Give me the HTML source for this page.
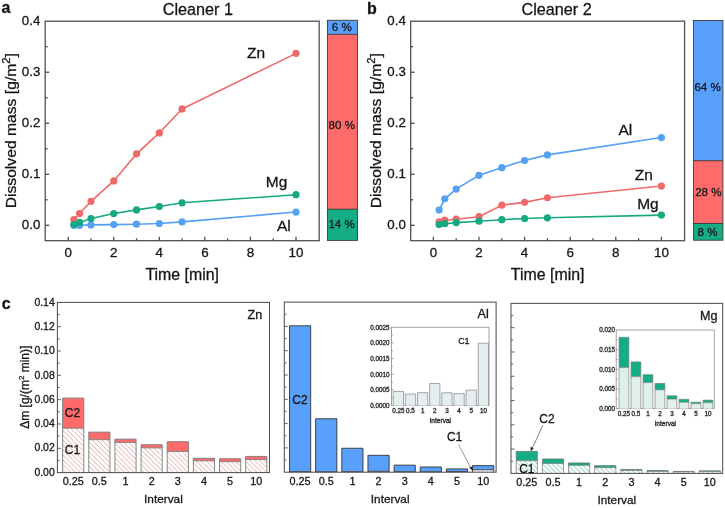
<!DOCTYPE html>
<html><head><meta charset="utf-8"><style>html,body{margin:0;padding:0;background:#fff;width:725px;height:508px;overflow:hidden}svg{display:block;will-change:transform}text{stroke:#222;stroke-width:0.3px}</style></head><body>
<svg width="725" height="508" viewBox="0 0 725 508" font-family='"Liberation Sans", sans-serif'>
<defs>
<pattern id="hr" patternUnits="userSpaceOnUse" width="4.9" height="4.9"><rect width="4.9" height="4.9" fill="#fff"/><path d="M-1,-1 L5.9,5.9 M-1,3.9 L1,5.9 M3.9,-1 L5.9,1" stroke="#e2a2a2" stroke-width="0.95"/></pattern>
<pattern id="hg" patternUnits="userSpaceOnUse" width="4.9" height="4.9"><rect width="4.9" height="4.9" fill="#fff"/><path d="M-1,-1 L5.9,5.9 M-1,3.9 L1,5.9 M3.9,-1 L5.9,1" stroke="#74c2ab" stroke-width="0.95"/></pattern>
<pattern id="hb" patternUnits="userSpaceOnUse" width="4" height="4"><rect width="4" height="4" fill="#fff"/><path d="M-1,-1 L5,5 M-1,3 L1,5 M3,-1 L5,1" stroke="#c6d2de" stroke-width="0.8"/></pattern>
</defs>
<rect width="725" height="508" fill="#fff"/>
<text x="1.50" y="13.20" font-size="16" text-anchor="start" font-weight="bold" fill="#111" >a</text>
<text x="367.00" y="14.00" font-size="16" text-anchor="start" font-weight="bold" fill="#111" >b</text>
<text x="1.80" y="308.80" font-size="16" text-anchor="start" font-weight="bold" fill="#111" >c</text>
<rect x="45.2" y="21.2" width="274.0" height="219.5" fill="none" stroke="#505050" stroke-width="1.3"/>
<line x1="45.20" y1="225.30" x2="49.20" y2="225.30" stroke="#505050" stroke-width="1.3"/>
<text x="40.30" y="229.20" font-size="13.3" text-anchor="end" font-weight="normal" fill="#111" >0.0</text>
<line x1="45.20" y1="199.79" x2="47.70" y2="199.79" stroke="#505050" stroke-width="1.3"/>
<line x1="45.20" y1="174.28" x2="49.20" y2="174.28" stroke="#505050" stroke-width="1.3"/>
<text x="40.30" y="178.18" font-size="13.3" text-anchor="end" font-weight="normal" fill="#111" >0.1</text>
<line x1="45.20" y1="148.76" x2="47.70" y2="148.76" stroke="#505050" stroke-width="1.3"/>
<line x1="45.20" y1="123.25" x2="49.20" y2="123.25" stroke="#505050" stroke-width="1.3"/>
<text x="40.30" y="127.15" font-size="13.3" text-anchor="end" font-weight="normal" fill="#111" >0.2</text>
<line x1="45.20" y1="97.74" x2="47.70" y2="97.74" stroke="#505050" stroke-width="1.3"/>
<line x1="45.20" y1="72.22" x2="49.20" y2="72.22" stroke="#505050" stroke-width="1.3"/>
<text x="40.30" y="76.12" font-size="13.3" text-anchor="end" font-weight="normal" fill="#111" >0.3</text>
<line x1="45.20" y1="46.71" x2="47.70" y2="46.71" stroke="#505050" stroke-width="1.3"/>
<text x="40.30" y="25.10" font-size="13.3" text-anchor="end" font-weight="normal" fill="#111" >0.4</text>
<line x1="68.20" y1="240.70" x2="68.20" y2="236.70" stroke="#505050" stroke-width="1.3"/>
<text x="68.20" y="256.50" font-size="13.4" text-anchor="middle" font-weight="normal" fill="#111" >0</text>
<line x1="90.98" y1="240.70" x2="90.98" y2="238.20" stroke="#505050" stroke-width="1.3"/>
<line x1="113.76" y1="240.70" x2="113.76" y2="236.70" stroke="#505050" stroke-width="1.3"/>
<text x="113.76" y="256.50" font-size="13.4" text-anchor="middle" font-weight="normal" fill="#111" >2</text>
<line x1="136.54" y1="240.70" x2="136.54" y2="238.20" stroke="#505050" stroke-width="1.3"/>
<line x1="159.32" y1="240.70" x2="159.32" y2="236.70" stroke="#505050" stroke-width="1.3"/>
<text x="159.32" y="256.50" font-size="13.4" text-anchor="middle" font-weight="normal" fill="#111" >4</text>
<line x1="182.10" y1="240.70" x2="182.10" y2="238.20" stroke="#505050" stroke-width="1.3"/>
<line x1="204.88" y1="240.70" x2="204.88" y2="236.70" stroke="#505050" stroke-width="1.3"/>
<text x="204.88" y="256.50" font-size="13.4" text-anchor="middle" font-weight="normal" fill="#111" >6</text>
<line x1="227.66" y1="240.70" x2="227.66" y2="238.20" stroke="#505050" stroke-width="1.3"/>
<line x1="250.44" y1="240.70" x2="250.44" y2="236.70" stroke="#505050" stroke-width="1.3"/>
<text x="250.44" y="256.50" font-size="13.4" text-anchor="middle" font-weight="normal" fill="#111" >8</text>
<line x1="273.22" y1="240.70" x2="273.22" y2="238.20" stroke="#505050" stroke-width="1.3"/>
<line x1="296.00" y1="240.70" x2="296.00" y2="236.70" stroke="#505050" stroke-width="1.3"/>
<text x="296.00" y="256.50" font-size="13.4" text-anchor="middle" font-weight="normal" fill="#111" >10</text>
<text x="162.80" y="14.90" font-size="16.2" text-anchor="start" font-weight="normal" fill="#111" >Cleaner 1</text>
<text x="182.20" y="279.80" font-size="15.9" text-anchor="middle" font-weight="normal" fill="#111" >Time [min]</text>
<text transform="translate(15.9,130.7) rotate(-90) scale(1.075,1)" font-size="14.6" text-anchor="middle" fill="#111">Dissolved mass [g/m<tspan dy="-6.2" font-size="10.5">2</tspan><tspan dy="6.2">]</tspan></text>
<polyline points="73.90,225.30 79.59,225.30 90.98,224.89 113.76,224.59 136.54,224.18 159.32,223.51 182.10,221.88 296.00,212.03" fill="none" stroke="#55a0f2" stroke-width="1.6"/>
<circle cx="73.90" cy="225.30" r="3.6" fill="#55a0f2"/>
<circle cx="79.59" cy="225.30" r="3.6" fill="#55a0f2"/>
<circle cx="90.98" cy="224.89" r="3.6" fill="#55a0f2"/>
<circle cx="113.76" cy="224.59" r="3.6" fill="#55a0f2"/>
<circle cx="136.54" cy="224.18" r="3.6" fill="#55a0f2"/>
<circle cx="159.32" cy="223.51" r="3.6" fill="#55a0f2"/>
<circle cx="182.10" cy="221.88" r="3.6" fill="#55a0f2"/>
<circle cx="296.00" cy="212.03" r="3.6" fill="#55a0f2"/>
<polyline points="73.90,219.69 79.59,213.56 90.98,201.32 113.76,180.91 136.54,153.87 159.32,132.94 182.10,108.96 296.00,53.35" fill="none" stroke="#ee6a6a" stroke-width="1.6"/>
<circle cx="73.90" cy="219.69" r="3.6" fill="#ee6a6a"/>
<circle cx="79.59" cy="213.56" r="3.6" fill="#ee6a6a"/>
<circle cx="90.98" cy="201.32" r="3.6" fill="#ee6a6a"/>
<circle cx="113.76" cy="180.91" r="3.6" fill="#ee6a6a"/>
<circle cx="136.54" cy="153.87" r="3.6" fill="#ee6a6a"/>
<circle cx="159.32" cy="132.94" r="3.6" fill="#ee6a6a"/>
<circle cx="182.10" cy="108.96" r="3.6" fill="#ee6a6a"/>
<circle cx="296.00" cy="53.35" r="3.6" fill="#ee6a6a"/>
<polyline points="73.90,224.59 79.59,222.39 90.98,218.51 113.76,213.51 136.54,209.89 159.32,206.52 182.10,202.80 296.00,194.69" fill="none" stroke="#16a880" stroke-width="1.6"/>
<circle cx="73.90" cy="224.59" r="3.6" fill="#16a880"/>
<circle cx="79.59" cy="222.39" r="3.6" fill="#16a880"/>
<circle cx="90.98" cy="218.51" r="3.6" fill="#16a880"/>
<circle cx="113.76" cy="213.51" r="3.6" fill="#16a880"/>
<circle cx="136.54" cy="209.89" r="3.6" fill="#16a880"/>
<circle cx="159.32" cy="206.52" r="3.6" fill="#16a880"/>
<circle cx="182.10" cy="202.80" r="3.6" fill="#16a880"/>
<circle cx="296.00" cy="194.69" r="3.6" fill="#16a880"/>
<text x="247.00" y="58.10" font-size="15.5" text-anchor="start" font-weight="normal" fill="#111" >Zn</text>
<text x="265.80" y="187.30" font-size="15.5" text-anchor="start" font-weight="normal" fill="#111" >Mg</text>
<text x="277.00" y="230.80" font-size="15.5" text-anchor="start" font-weight="normal" fill="#111" >Al</text>
<rect x="410.7" y="21.2" width="273.90000000000003" height="219.5" fill="none" stroke="#505050" stroke-width="1.3"/>
<line x1="410.70" y1="225.30" x2="414.70" y2="225.30" stroke="#505050" stroke-width="1.3"/>
<text x="405.80" y="229.20" font-size="13.3" text-anchor="end" font-weight="normal" fill="#111" >0.0</text>
<line x1="410.70" y1="199.79" x2="413.20" y2="199.79" stroke="#505050" stroke-width="1.3"/>
<line x1="410.70" y1="174.28" x2="414.70" y2="174.28" stroke="#505050" stroke-width="1.3"/>
<text x="405.80" y="178.18" font-size="13.3" text-anchor="end" font-weight="normal" fill="#111" >0.1</text>
<line x1="410.70" y1="148.76" x2="413.20" y2="148.76" stroke="#505050" stroke-width="1.3"/>
<line x1="410.70" y1="123.25" x2="414.70" y2="123.25" stroke="#505050" stroke-width="1.3"/>
<text x="405.80" y="127.15" font-size="13.3" text-anchor="end" font-weight="normal" fill="#111" >0.2</text>
<line x1="410.70" y1="97.74" x2="413.20" y2="97.74" stroke="#505050" stroke-width="1.3"/>
<line x1="410.70" y1="72.22" x2="414.70" y2="72.22" stroke="#505050" stroke-width="1.3"/>
<text x="405.80" y="76.12" font-size="13.3" text-anchor="end" font-weight="normal" fill="#111" >0.3</text>
<line x1="410.70" y1="46.71" x2="413.20" y2="46.71" stroke="#505050" stroke-width="1.3"/>
<text x="405.80" y="25.10" font-size="13.3" text-anchor="end" font-weight="normal" fill="#111" >0.4</text>
<line x1="433.40" y1="240.70" x2="433.40" y2="236.70" stroke="#505050" stroke-width="1.3"/>
<text x="433.40" y="256.50" font-size="13.4" text-anchor="middle" font-weight="normal" fill="#111" >0</text>
<line x1="456.20" y1="240.70" x2="456.20" y2="238.20" stroke="#505050" stroke-width="1.3"/>
<line x1="479.00" y1="240.70" x2="479.00" y2="236.70" stroke="#505050" stroke-width="1.3"/>
<text x="479.00" y="256.50" font-size="13.4" text-anchor="middle" font-weight="normal" fill="#111" >2</text>
<line x1="501.80" y1="240.70" x2="501.80" y2="238.20" stroke="#505050" stroke-width="1.3"/>
<line x1="524.60" y1="240.70" x2="524.60" y2="236.70" stroke="#505050" stroke-width="1.3"/>
<text x="524.60" y="256.50" font-size="13.4" text-anchor="middle" font-weight="normal" fill="#111" >4</text>
<line x1="547.40" y1="240.70" x2="547.40" y2="238.20" stroke="#505050" stroke-width="1.3"/>
<line x1="570.20" y1="240.70" x2="570.20" y2="236.70" stroke="#505050" stroke-width="1.3"/>
<text x="570.20" y="256.50" font-size="13.4" text-anchor="middle" font-weight="normal" fill="#111" >6</text>
<line x1="593.00" y1="240.70" x2="593.00" y2="238.20" stroke="#505050" stroke-width="1.3"/>
<line x1="615.80" y1="240.70" x2="615.80" y2="236.70" stroke="#505050" stroke-width="1.3"/>
<text x="615.80" y="256.50" font-size="13.4" text-anchor="middle" font-weight="normal" fill="#111" >8</text>
<line x1="638.60" y1="240.70" x2="638.60" y2="238.20" stroke="#505050" stroke-width="1.3"/>
<line x1="661.40" y1="240.70" x2="661.40" y2="236.70" stroke="#505050" stroke-width="1.3"/>
<text x="661.40" y="256.50" font-size="13.4" text-anchor="middle" font-weight="normal" fill="#111" >10</text>
<text x="521.50" y="14.90" font-size="16.2" text-anchor="start" font-weight="normal" fill="#111" >Cleaner 2</text>
<text x="547.65" y="279.80" font-size="15.9" text-anchor="middle" font-weight="normal" fill="#111" >Time [min]</text>
<text transform="translate(381.3,130.7) rotate(-90) scale(1.075,1)" font-size="14.6" text-anchor="middle" fill="#111">Dissolved mass [g/m<tspan dy="-6.2" font-size="10.5">2</tspan><tspan dy="6.2">]</tspan></text>
<polyline points="439.10,210.09 444.80,198.77 456.20,189.07 479.00,175.30 501.80,167.64 524.60,160.50 547.40,154.89 661.40,137.54" fill="none" stroke="#55a0f2" stroke-width="1.6"/>
<circle cx="439.10" cy="210.09" r="3.6" fill="#55a0f2"/>
<circle cx="444.80" cy="198.77" r="3.6" fill="#55a0f2"/>
<circle cx="456.20" cy="189.07" r="3.6" fill="#55a0f2"/>
<circle cx="479.00" cy="175.30" r="3.6" fill="#55a0f2"/>
<circle cx="501.80" cy="167.64" r="3.6" fill="#55a0f2"/>
<circle cx="524.60" cy="160.50" r="3.6" fill="#55a0f2"/>
<circle cx="547.40" cy="154.89" r="3.6" fill="#55a0f2"/>
<circle cx="661.40" cy="137.54" r="3.6" fill="#55a0f2"/>
<polyline points="439.10,221.88 444.80,220.20 456.20,219.18 479.00,216.68 501.80,205.20 524.60,202.34 547.40,197.75 661.40,186.01" fill="none" stroke="#ee6a6a" stroke-width="1.6"/>
<circle cx="439.10" cy="221.88" r="3.6" fill="#ee6a6a"/>
<circle cx="444.80" cy="220.20" r="3.6" fill="#ee6a6a"/>
<circle cx="456.20" cy="219.18" r="3.6" fill="#ee6a6a"/>
<circle cx="479.00" cy="216.68" r="3.6" fill="#ee6a6a"/>
<circle cx="501.80" cy="205.20" r="3.6" fill="#ee6a6a"/>
<circle cx="524.60" cy="202.34" r="3.6" fill="#ee6a6a"/>
<circle cx="547.40" cy="197.75" r="3.6" fill="#ee6a6a"/>
<circle cx="661.40" cy="186.01" r="3.6" fill="#ee6a6a"/>
<polyline points="439.10,224.59 444.80,223.72 456.20,222.60 479.00,221.22 501.80,219.69 524.60,218.51 547.40,217.80 661.40,215.09" fill="none" stroke="#16a880" stroke-width="1.6"/>
<circle cx="439.10" cy="224.59" r="3.6" fill="#16a880"/>
<circle cx="444.80" cy="223.72" r="3.6" fill="#16a880"/>
<circle cx="456.20" cy="222.60" r="3.6" fill="#16a880"/>
<circle cx="479.00" cy="221.22" r="3.6" fill="#16a880"/>
<circle cx="501.80" cy="219.69" r="3.6" fill="#16a880"/>
<circle cx="524.60" cy="218.51" r="3.6" fill="#16a880"/>
<circle cx="547.40" cy="217.80" r="3.6" fill="#16a880"/>
<circle cx="661.40" cy="215.09" r="3.6" fill="#16a880"/>
<text x="618.40" y="134.80" font-size="15.5" text-anchor="start" font-weight="normal" fill="#111" >Al</text>
<text x="634.80" y="179.70" font-size="15.5" text-anchor="start" font-weight="normal" fill="#111" >Zn</text>
<text x="637.20" y="208.80" font-size="15.5" text-anchor="start" font-weight="normal" fill="#111" >Mg</text>
<rect x="327.40" y="20.30" width="30.00" height="14.00" fill="#58a0fc" stroke="none" stroke-width="1"/>
<rect x="327.40" y="34.30" width="30.00" height="174.90" fill="#ff6a6a" stroke="none" stroke-width="1"/>
<rect x="327.40" y="209.20" width="30.00" height="31.20" fill="#14ad86" stroke="none" stroke-width="1"/>
<line x1="327.40" y1="34.30" x2="357.40" y2="34.30" stroke="#333" stroke-width="0.9"/>
<line x1="327.40" y1="209.20" x2="357.40" y2="209.20" stroke="#333" stroke-width="0.9"/>
<rect x="327.4" y="20.3" width="30.0" height="220.1" fill="none" stroke="#3a3a3a" stroke-width="0.9"/>
<text x="341.80" y="31.40" font-size="11.6" text-anchor="middle" font-weight="normal" fill="#111" >6 %</text>
<text x="341.80" y="129.00" font-size="11.6" text-anchor="middle" font-weight="normal" fill="#111" >80 %</text>
<text x="341.60" y="228.30" font-size="11.6" text-anchor="middle" font-weight="normal" fill="#111" >14 %</text>
<rect x="693.50" y="20.50" width="29.40" height="140.20" fill="#58a0fc" stroke="none" stroke-width="1"/>
<rect x="693.50" y="160.70" width="29.40" height="62.80" fill="#ff6a6a" stroke="none" stroke-width="1"/>
<rect x="693.50" y="223.50" width="29.40" height="16.70" fill="#14ad86" stroke="none" stroke-width="1"/>
<line x1="693.50" y1="160.70" x2="722.90" y2="160.70" stroke="#333" stroke-width="0.9"/>
<line x1="693.50" y1="223.50" x2="722.90" y2="223.50" stroke="#333" stroke-width="0.9"/>
<rect x="693.5" y="20.5" width="29.4" height="219.7" fill="none" stroke="#3a3a3a" stroke-width="0.9"/>
<text x="707.60" y="91.10" font-size="11.6" text-anchor="middle" font-weight="normal" fill="#111" >64 %</text>
<text x="708.40" y="195.50" font-size="11.6" text-anchor="middle" font-weight="normal" fill="#111" >28 %</text>
<text x="707.60" y="235.80" font-size="11.6" text-anchor="middle" font-weight="normal" fill="#111" >8 %</text>
<text x="54.70" y="475.80" font-size="10.4" text-anchor="end" font-weight="normal" fill="#111" >0.00</text>
<text x="54.70" y="451.49" font-size="10.4" text-anchor="end" font-weight="normal" fill="#111" >0.02</text>
<text x="54.70" y="427.17" font-size="10.4" text-anchor="end" font-weight="normal" fill="#111" >0.04</text>
<text x="54.70" y="402.86" font-size="10.4" text-anchor="end" font-weight="normal" fill="#111" >0.06</text>
<text x="54.70" y="378.54" font-size="10.4" text-anchor="end" font-weight="normal" fill="#111" >0.08</text>
<text x="54.70" y="354.23" font-size="10.4" text-anchor="end" font-weight="normal" fill="#111" >0.10</text>
<text x="54.70" y="329.91" font-size="10.4" text-anchor="end" font-weight="normal" fill="#111" >0.12</text>
<text x="54.70" y="305.60" font-size="10.4" text-anchor="end" font-weight="normal" fill="#111" >0.14</text>
<text x="73.20" y="485.10" font-size="10.8" text-anchor="middle" font-weight="normal" fill="#111" >0.25</text>
<text x="99.35" y="485.10" font-size="10.8" text-anchor="middle" font-weight="normal" fill="#111" >0.5</text>
<text x="125.50" y="485.10" font-size="10.8" text-anchor="middle" font-weight="normal" fill="#111" >1</text>
<text x="151.65" y="485.10" font-size="10.8" text-anchor="middle" font-weight="normal" fill="#111" >2</text>
<text x="177.80" y="485.10" font-size="10.8" text-anchor="middle" font-weight="normal" fill="#111" >3</text>
<text x="203.95" y="485.10" font-size="10.8" text-anchor="middle" font-weight="normal" fill="#111" >4</text>
<text x="230.10" y="485.10" font-size="10.8" text-anchor="middle" font-weight="normal" fill="#111" >5</text>
<text x="256.25" y="485.10" font-size="10.8" text-anchor="middle" font-weight="normal" fill="#111" >10</text>
<text x="163.45" y="502.90" font-size="11.8" text-anchor="middle" font-weight="normal" fill="#111" >Interval</text>
<text x="247.60" y="319.00" font-size="12.6" text-anchor="start" font-weight="normal" fill="#111" >Zn</text>
<rect x="62.60" y="398.08" width="21.20" height="30.15" fill="#ff6a6a" stroke="none" stroke-width="1"/>
<rect x="62.60" y="428.23" width="21.20" height="44.37" fill="url(#hr)" stroke="none" stroke-width="1"/>
<path d="M62.60,472.60 V398.08 H83.80 V472.60" fill="none" stroke="#7a7a7a" stroke-width="0.9"/>
<line x1="62.60" y1="428.23" x2="83.80" y2="428.23" stroke="#7a7a7a" stroke-width="0.9"/>
<rect x="88.75" y="432.12" width="21.20" height="7.54" fill="#ff6a6a" stroke="none" stroke-width="1"/>
<rect x="88.75" y="439.65" width="21.20" height="32.95" fill="url(#hr)" stroke="none" stroke-width="1"/>
<path d="M88.75,472.60 V432.12 H109.95 V472.60" fill="none" stroke="#7a7a7a" stroke-width="0.9"/>
<line x1="88.75" y1="439.65" x2="109.95" y2="439.65" stroke="#7a7a7a" stroke-width="0.9"/>
<rect x="114.90" y="439.17" width="21.20" height="3.28" fill="#ff6a6a" stroke="none" stroke-width="1"/>
<rect x="114.90" y="442.45" width="21.20" height="30.15" fill="url(#hr)" stroke="none" stroke-width="1"/>
<path d="M114.90,472.60 V439.17 H136.10 V472.60" fill="none" stroke="#7a7a7a" stroke-width="0.9"/>
<line x1="114.90" y1="442.45" x2="136.10" y2="442.45" stroke="#7a7a7a" stroke-width="0.9"/>
<rect x="141.05" y="444.76" width="21.20" height="3.16" fill="#ff6a6a" stroke="none" stroke-width="1"/>
<rect x="141.05" y="447.92" width="21.20" height="24.68" fill="url(#hr)" stroke="none" stroke-width="1"/>
<path d="M141.05,472.60 V444.76 H162.25 V472.60" fill="none" stroke="#7a7a7a" stroke-width="0.9"/>
<line x1="141.05" y1="447.92" x2="162.25" y2="447.92" stroke="#7a7a7a" stroke-width="0.9"/>
<rect x="167.20" y="441.72" width="21.20" height="9.73" fill="#ff6a6a" stroke="none" stroke-width="1"/>
<rect x="167.20" y="451.45" width="21.20" height="21.15" fill="url(#hr)" stroke="none" stroke-width="1"/>
<path d="M167.20,472.60 V441.72 H188.40 V472.60" fill="none" stroke="#7a7a7a" stroke-width="0.9"/>
<line x1="167.20" y1="451.45" x2="188.40" y2="451.45" stroke="#7a7a7a" stroke-width="0.9"/>
<rect x="193.35" y="458.25" width="21.20" height="2.55" fill="#ff6a6a" stroke="none" stroke-width="1"/>
<rect x="193.35" y="460.81" width="21.20" height="11.79" fill="url(#hr)" stroke="none" stroke-width="1"/>
<path d="M193.35,472.60 V458.25 H214.55 V472.60" fill="none" stroke="#7a7a7a" stroke-width="0.9"/>
<line x1="193.35" y1="460.81" x2="214.55" y2="460.81" stroke="#7a7a7a" stroke-width="0.9"/>
<rect x="219.50" y="458.74" width="21.20" height="2.92" fill="#ff6a6a" stroke="none" stroke-width="1"/>
<rect x="219.50" y="461.66" width="21.20" height="10.94" fill="url(#hr)" stroke="none" stroke-width="1"/>
<path d="M219.50,472.60 V458.74 H240.70 V472.60" fill="none" stroke="#7a7a7a" stroke-width="0.9"/>
<line x1="219.50" y1="461.66" x2="240.70" y2="461.66" stroke="#7a7a7a" stroke-width="0.9"/>
<rect x="245.65" y="456.43" width="21.20" height="3.16" fill="#ff6a6a" stroke="none" stroke-width="1"/>
<rect x="245.65" y="459.59" width="21.20" height="13.01" fill="url(#hr)" stroke="none" stroke-width="1"/>
<path d="M245.65,472.60 V456.43 H266.85 V472.60" fill="none" stroke="#7a7a7a" stroke-width="0.9"/>
<line x1="245.65" y1="459.59" x2="266.85" y2="459.59" stroke="#7a7a7a" stroke-width="0.9"/>
<rect x="57.4" y="302.4" width="212.1" height="170.20000000000005" fill="none" stroke="#505050" stroke-width="1.05"/>
<line x1="57.40" y1="460.44" x2="59.60" y2="460.44" stroke="#505050" stroke-width="0.9"/>
<line x1="57.40" y1="448.29" x2="60.90" y2="448.29" stroke="#505050" stroke-width="0.9"/>
<line x1="57.40" y1="436.13" x2="59.60" y2="436.13" stroke="#505050" stroke-width="0.9"/>
<line x1="57.40" y1="423.97" x2="60.90" y2="423.97" stroke="#505050" stroke-width="0.9"/>
<line x1="57.40" y1="411.81" x2="59.60" y2="411.81" stroke="#505050" stroke-width="0.9"/>
<line x1="57.40" y1="399.66" x2="60.90" y2="399.66" stroke="#505050" stroke-width="0.9"/>
<line x1="57.40" y1="387.50" x2="59.60" y2="387.50" stroke="#505050" stroke-width="0.9"/>
<line x1="57.40" y1="375.34" x2="60.90" y2="375.34" stroke="#505050" stroke-width="0.9"/>
<line x1="57.40" y1="363.19" x2="59.60" y2="363.19" stroke="#505050" stroke-width="0.9"/>
<line x1="57.40" y1="351.03" x2="60.90" y2="351.03" stroke="#505050" stroke-width="0.9"/>
<line x1="57.40" y1="338.87" x2="59.60" y2="338.87" stroke="#505050" stroke-width="0.9"/>
<line x1="57.40" y1="326.71" x2="60.90" y2="326.71" stroke="#505050" stroke-width="0.9"/>
<line x1="57.40" y1="314.56" x2="59.60" y2="314.56" stroke="#505050" stroke-width="0.9"/>
<text x="72.50" y="417.40" font-size="12" text-anchor="middle" font-weight="normal" fill="#111" >C2</text>
<text x="72.50" y="453.70" font-size="12" text-anchor="middle" font-weight="normal" fill="#111" >C1</text>
<text x="300.10" y="484.70" font-size="10.8" text-anchor="middle" font-weight="normal" fill="#111" >0.25</text>
<text x="326.25" y="484.70" font-size="10.8" text-anchor="middle" font-weight="normal" fill="#111" >0.5</text>
<text x="352.40" y="484.70" font-size="10.8" text-anchor="middle" font-weight="normal" fill="#111" >1</text>
<text x="378.55" y="484.70" font-size="10.8" text-anchor="middle" font-weight="normal" fill="#111" >2</text>
<text x="404.70" y="484.70" font-size="10.8" text-anchor="middle" font-weight="normal" fill="#111" >3</text>
<text x="430.85" y="484.70" font-size="10.8" text-anchor="middle" font-weight="normal" fill="#111" >4</text>
<text x="457.00" y="484.70" font-size="10.8" text-anchor="middle" font-weight="normal" fill="#111" >5</text>
<text x="483.15" y="484.70" font-size="10.8" text-anchor="middle" font-weight="normal" fill="#111" >10</text>
<text x="390.20" y="502.90" font-size="11.8" text-anchor="middle" font-weight="normal" fill="#111" >Interval</text>
<text x="477.50" y="317.60" font-size="12.6" text-anchor="start" font-weight="normal" fill="#111" >Al</text>
<rect x="289.50" y="325.79" width="21.20" height="145.86" fill="#58a0fc" stroke="none" stroke-width="1"/>
<rect x="289.50" y="471.65" width="21.20" height="0.55" fill="url(#hb)" stroke="none" stroke-width="1"/>
<path d="M289.50,472.20 V325.79 H310.70 V472.20" fill="none" stroke="#333" stroke-width="0.9"/>
<line x1="289.50" y1="471.65" x2="310.70" y2="471.65" stroke="#333" stroke-width="0.9"/>
<rect x="315.65" y="418.74" width="21.20" height="53.01" fill="#58a0fc" stroke="none" stroke-width="1"/>
<rect x="315.65" y="471.75" width="21.20" height="0.45" fill="url(#hb)" stroke="none" stroke-width="1"/>
<path d="M315.65,472.20 V418.74 H336.85 V472.20" fill="none" stroke="#333" stroke-width="0.9"/>
<line x1="315.65" y1="471.75" x2="336.85" y2="471.75" stroke="#333" stroke-width="0.9"/>
<rect x="341.80" y="448.26" width="21.20" height="23.43" fill="#58a0fc" stroke="none" stroke-width="1"/>
<rect x="341.80" y="471.70" width="21.20" height="0.50" fill="url(#hb)" stroke="none" stroke-width="1"/>
<path d="M341.80,472.20 V448.26 H363.00 V472.20" fill="none" stroke="#333" stroke-width="0.9"/>
<line x1="341.80" y1="471.70" x2="363.00" y2="471.70" stroke="#333" stroke-width="0.9"/>
<rect x="367.95" y="455.31" width="21.20" height="16.03" fill="#58a0fc" stroke="none" stroke-width="1"/>
<rect x="367.95" y="471.34" width="21.20" height="0.86" fill="url(#hb)" stroke="none" stroke-width="1"/>
<path d="M367.95,472.20 V455.31 H389.15 V472.20" fill="none" stroke="#333" stroke-width="0.9"/>
<line x1="367.95" y1="471.34" x2="389.15" y2="471.34" stroke="#333" stroke-width="0.9"/>
<rect x="394.10" y="465.15" width="21.20" height="6.55" fill="#58a0fc" stroke="none" stroke-width="1"/>
<rect x="394.10" y="471.70" width="21.20" height="0.50" fill="url(#hb)" stroke="none" stroke-width="1"/>
<path d="M394.10,472.20 V465.15 H415.30 V472.20" fill="none" stroke="#333" stroke-width="0.9"/>
<line x1="394.10" y1="471.70" x2="415.30" y2="471.70" stroke="#333" stroke-width="0.9"/>
<rect x="420.25" y="466.98" width="21.20" height="4.76" fill="#58a0fc" stroke="none" stroke-width="1"/>
<rect x="420.25" y="471.73" width="21.20" height="0.47" fill="url(#hb)" stroke="none" stroke-width="1"/>
<path d="M420.25,472.20 V466.98 H441.45 V472.20" fill="none" stroke="#333" stroke-width="0.9"/>
<line x1="420.25" y1="471.73" x2="441.45" y2="471.73" stroke="#333" stroke-width="0.9"/>
<rect x="446.40" y="468.92" width="21.20" height="2.68" fill="#58a0fc" stroke="none" stroke-width="1"/>
<rect x="446.40" y="471.60" width="21.20" height="0.60" fill="url(#hb)" stroke="none" stroke-width="1"/>
<path d="M446.40,472.20 V468.92 H467.60 V472.20" fill="none" stroke="#333" stroke-width="0.9"/>
<line x1="446.40" y1="471.60" x2="467.60" y2="471.60" stroke="#333" stroke-width="0.9"/>
<rect x="472.55" y="465.64" width="21.20" height="4.14" fill="#58a0fc" stroke="none" stroke-width="1"/>
<rect x="472.55" y="469.78" width="21.20" height="2.42" fill="url(#hb)" stroke="none" stroke-width="1"/>
<path d="M472.55,472.20 V465.64 H493.75 V472.20" fill="none" stroke="#333" stroke-width="0.9"/>
<line x1="472.55" y1="469.78" x2="493.75" y2="469.78" stroke="#333" stroke-width="0.9"/>
<rect x="284.3" y="302.1" width="211.8" height="170.09999999999997" fill="none" stroke="#505050" stroke-width="1.05"/>
<line x1="284.30" y1="460.05" x2="286.50" y2="460.05" stroke="#505050" stroke-width="0.9"/>
<line x1="284.30" y1="447.90" x2="287.80" y2="447.90" stroke="#505050" stroke-width="0.9"/>
<line x1="284.30" y1="435.75" x2="286.50" y2="435.75" stroke="#505050" stroke-width="0.9"/>
<line x1="284.30" y1="423.60" x2="287.80" y2="423.60" stroke="#505050" stroke-width="0.9"/>
<line x1="284.30" y1="411.45" x2="286.50" y2="411.45" stroke="#505050" stroke-width="0.9"/>
<line x1="284.30" y1="399.30" x2="287.80" y2="399.30" stroke="#505050" stroke-width="0.9"/>
<line x1="284.30" y1="387.15" x2="286.50" y2="387.15" stroke="#505050" stroke-width="0.9"/>
<line x1="284.30" y1="375.00" x2="287.80" y2="375.00" stroke="#505050" stroke-width="0.9"/>
<line x1="284.30" y1="362.85" x2="286.50" y2="362.85" stroke="#505050" stroke-width="0.9"/>
<line x1="284.30" y1="350.70" x2="287.80" y2="350.70" stroke="#505050" stroke-width="0.9"/>
<line x1="284.30" y1="338.55" x2="286.50" y2="338.55" stroke="#505050" stroke-width="0.9"/>
<line x1="284.30" y1="326.40" x2="287.80" y2="326.40" stroke="#505050" stroke-width="0.9"/>
<line x1="284.30" y1="314.25" x2="286.50" y2="314.25" stroke="#505050" stroke-width="0.9"/>
<text x="300.00" y="403.80" font-size="12" text-anchor="middle" font-weight="normal" fill="#111" >C2</text>
<text x="454.60" y="441.00" font-size="12" text-anchor="middle" font-weight="normal" fill="#111" >C1</text>
<line x1="458.5" y1="444.5" x2="471.3" y2="468.6" stroke="#555" stroke-width="0.6"/>
<path d="M472.6,471 L469.2,467.6 L472.4,466.4 Z" fill="#222"/>
<text x="526.80" y="485.90" font-size="10.8" text-anchor="middle" font-weight="normal" fill="#111" >0.25</text>
<text x="552.95" y="485.90" font-size="10.8" text-anchor="middle" font-weight="normal" fill="#111" >0.5</text>
<text x="579.10" y="485.90" font-size="10.8" text-anchor="middle" font-weight="normal" fill="#111" >1</text>
<text x="605.25" y="485.90" font-size="10.8" text-anchor="middle" font-weight="normal" fill="#111" >2</text>
<text x="631.40" y="485.90" font-size="10.8" text-anchor="middle" font-weight="normal" fill="#111" >3</text>
<text x="657.55" y="485.90" font-size="10.8" text-anchor="middle" font-weight="normal" fill="#111" >4</text>
<text x="683.70" y="485.90" font-size="10.8" text-anchor="middle" font-weight="normal" fill="#111" >5</text>
<text x="709.85" y="485.90" font-size="10.8" text-anchor="middle" font-weight="normal" fill="#111" >10</text>
<text x="616.85" y="503.80" font-size="11.8" text-anchor="middle" font-weight="normal" fill="#111" >Interval</text>
<text x="700.00" y="320.10" font-size="12.6" text-anchor="start" font-weight="normal" fill="#111" >Mg</text>
<rect x="516.20" y="451.37" width="21.20" height="9.36" fill="#14ad86" stroke="none" stroke-width="1"/>
<rect x="516.20" y="460.73" width="21.20" height="12.67" fill="url(#hg)" stroke="none" stroke-width="1"/>
<path d="M516.20,473.40 V451.37 H537.40 V473.40" fill="none" stroke="#707070" stroke-width="0.7"/>
<line x1="516.20" y1="460.73" x2="537.40" y2="460.73" stroke="#707070" stroke-width="0.7"/>
<rect x="542.35" y="458.97" width="21.20" height="4.57" fill="#14ad86" stroke="none" stroke-width="1"/>
<rect x="542.35" y="463.54" width="21.20" height="9.86" fill="url(#hg)" stroke="none" stroke-width="1"/>
<path d="M542.35,473.40 V458.97 H563.55 V473.40" fill="none" stroke="#707070" stroke-width="0.7"/>
<line x1="542.35" y1="463.54" x2="563.55" y2="463.54" stroke="#707070" stroke-width="0.7"/>
<rect x="568.50" y="462.92" width="21.20" height="2.44" fill="#14ad86" stroke="none" stroke-width="1"/>
<rect x="568.50" y="465.36" width="21.20" height="8.04" fill="url(#hg)" stroke="none" stroke-width="1"/>
<path d="M568.50,473.40 V462.92 H589.70 V473.40" fill="none" stroke="#707070" stroke-width="0.7"/>
<line x1="568.50" y1="465.36" x2="589.70" y2="465.36" stroke="#707070" stroke-width="0.7"/>
<rect x="594.65" y="465.62" width="21.20" height="2.00" fill="#14ad86" stroke="none" stroke-width="1"/>
<rect x="594.65" y="467.62" width="21.20" height="5.78" fill="url(#hg)" stroke="none" stroke-width="1"/>
<path d="M594.65,473.40 V465.62 H615.85 V473.40" fill="none" stroke="#707070" stroke-width="0.7"/>
<line x1="594.65" y1="467.62" x2="615.85" y2="467.62" stroke="#707070" stroke-width="0.7"/>
<rect x="620.80" y="469.44" width="21.20" height="1.02" fill="#14ad86" stroke="none" stroke-width="1"/>
<rect x="620.80" y="470.46" width="21.20" height="2.94" fill="url(#hg)" stroke="none" stroke-width="1"/>
<path d="M620.80,473.40 V469.44 H642.00 V473.40" fill="none" stroke="#707070" stroke-width="0.7"/>
<line x1="620.80" y1="470.46" x2="642.00" y2="470.46" stroke="#707070" stroke-width="0.7"/>
<rect x="646.95" y="470.52" width="21.20" height="0.94" fill="#14ad86" stroke="none" stroke-width="1"/>
<rect x="646.95" y="471.46" width="21.20" height="1.94" fill="url(#hg)" stroke="none" stroke-width="1"/>
<path d="M646.95,473.40 V470.52 H668.15 V473.40" fill="none" stroke="#707070" stroke-width="0.7"/>
<line x1="646.95" y1="471.46" x2="668.15" y2="471.46" stroke="#707070" stroke-width="0.7"/>
<rect x="673.10" y="471.40" width="21.20" height="0.49" fill="#14ad86" stroke="none" stroke-width="1"/>
<rect x="673.10" y="471.88" width="21.20" height="1.52" fill="url(#hg)" stroke="none" stroke-width="1"/>
<path d="M673.10,473.40 V471.40 H694.30 V473.40" fill="none" stroke="#707070" stroke-width="0.7"/>
<line x1="673.10" y1="471.88" x2="694.30" y2="471.88" stroke="#707070" stroke-width="0.7"/>
<rect x="699.25" y="470.78" width="21.20" height="0.80" fill="#14ad86" stroke="none" stroke-width="1"/>
<rect x="699.25" y="471.58" width="21.20" height="1.82" fill="url(#hg)" stroke="none" stroke-width="1"/>
<path d="M699.25,473.40 V470.78 H720.45 V473.40" fill="none" stroke="#707070" stroke-width="0.7"/>
<line x1="699.25" y1="471.58" x2="720.45" y2="471.58" stroke="#707070" stroke-width="0.7"/>
<rect x="511.0" y="303.4" width="211.70000000000005" height="170.0" fill="none" stroke="#505050" stroke-width="1.05"/>
<line x1="511.00" y1="461.26" x2="513.20" y2="461.26" stroke="#505050" stroke-width="0.9"/>
<line x1="511.00" y1="449.11" x2="514.50" y2="449.11" stroke="#505050" stroke-width="0.9"/>
<line x1="511.00" y1="436.97" x2="513.20" y2="436.97" stroke="#505050" stroke-width="0.9"/>
<line x1="511.00" y1="424.83" x2="514.50" y2="424.83" stroke="#505050" stroke-width="0.9"/>
<line x1="511.00" y1="412.69" x2="513.20" y2="412.69" stroke="#505050" stroke-width="0.9"/>
<line x1="511.00" y1="400.54" x2="514.50" y2="400.54" stroke="#505050" stroke-width="0.9"/>
<line x1="511.00" y1="388.40" x2="513.20" y2="388.40" stroke="#505050" stroke-width="0.9"/>
<line x1="511.00" y1="376.26" x2="514.50" y2="376.26" stroke="#505050" stroke-width="0.9"/>
<line x1="511.00" y1="364.11" x2="513.20" y2="364.11" stroke="#505050" stroke-width="0.9"/>
<line x1="511.00" y1="351.97" x2="514.50" y2="351.97" stroke="#505050" stroke-width="0.9"/>
<line x1="511.00" y1="339.83" x2="513.20" y2="339.83" stroke="#505050" stroke-width="0.9"/>
<line x1="511.00" y1="327.69" x2="514.50" y2="327.69" stroke="#505050" stroke-width="0.9"/>
<line x1="511.00" y1="315.54" x2="513.20" y2="315.54" stroke="#505050" stroke-width="0.9"/>
<text x="547.00" y="423.30" font-size="12" text-anchor="middle" font-weight="normal" fill="#111" >C2</text>
<text x="526.80" y="472.80" font-size="12" text-anchor="middle" font-weight="normal" fill="#111" >C1</text>
<line x1="542.8" y1="425.2" x2="532.2" y2="448.5" stroke="#333" stroke-width="0.6"/>
<path d="M530.8,451.6 L530.6,446.8 L533.6,448.2 Z" fill="#222"/>
<text transform="translate(29,387.2) rotate(-90)" font-size="12" text-anchor="middle" fill="#111">Δm [g/(m<tspan dy="-5" font-size="8">2</tspan><tspan dy="5"> min)]</tspan></text>
<rect x="391.5" y="327.3" width="97.5" height="78.30000000000001" fill="#fff" stroke="#9a9a9a" stroke-width="0.9"/>
<text x="389.60" y="407.90" font-size="6.3" text-anchor="end" font-weight="normal" fill="#2a2a2a" >0.0000</text>
<line x1="391.50" y1="397.77" x2="392.90" y2="397.77" stroke="#777" stroke-width="0.7"/>
<line x1="391.50" y1="389.94" x2="393.50" y2="389.94" stroke="#777" stroke-width="0.7"/>
<text x="389.60" y="392.24" font-size="6.3" text-anchor="end" font-weight="normal" fill="#2a2a2a" >0.0005</text>
<line x1="391.50" y1="382.11" x2="392.90" y2="382.11" stroke="#777" stroke-width="0.7"/>
<line x1="391.50" y1="374.28" x2="393.50" y2="374.28" stroke="#777" stroke-width="0.7"/>
<text x="389.60" y="376.58" font-size="6.3" text-anchor="end" font-weight="normal" fill="#2a2a2a" >0.0010</text>
<line x1="391.50" y1="366.45" x2="392.90" y2="366.45" stroke="#777" stroke-width="0.7"/>
<line x1="391.50" y1="358.62" x2="393.50" y2="358.62" stroke="#777" stroke-width="0.7"/>
<text x="389.60" y="360.92" font-size="6.3" text-anchor="end" font-weight="normal" fill="#2a2a2a" >0.0015</text>
<line x1="391.50" y1="350.79" x2="392.90" y2="350.79" stroke="#777" stroke-width="0.7"/>
<line x1="391.50" y1="342.96" x2="393.50" y2="342.96" stroke="#777" stroke-width="0.7"/>
<text x="389.60" y="345.26" font-size="6.3" text-anchor="end" font-weight="normal" fill="#2a2a2a" >0.0020</text>
<line x1="391.50" y1="335.13" x2="392.90" y2="335.13" stroke="#777" stroke-width="0.7"/>
<text x="389.60" y="329.60" font-size="6.3" text-anchor="end" font-weight="normal" fill="#2a2a2a" >0.0025</text>
<rect x="393.20" y="391.41" width="10.30" height="14.19" fill="#e4eef1" stroke="none" stroke-width="1"/>
<path d="M393.20,405.60 V391.41 H403.50 V405.60" fill="none" stroke="#7a7a7a" stroke-width="0.65"/>
<text x="398.35" y="413.10" font-size="6.3" text-anchor="middle" font-weight="normal" fill="#2a2a2a" >0.25</text>
<rect x="405.35" y="394.01" width="10.30" height="11.59" fill="#e4eef1" stroke="none" stroke-width="1"/>
<path d="M405.35,405.60 V394.01 H415.65 V405.60" fill="none" stroke="#7a7a7a" stroke-width="0.65"/>
<text x="410.50" y="413.10" font-size="6.3" text-anchor="middle" font-weight="normal" fill="#2a2a2a" >0.5</text>
<rect x="417.50" y="392.70" width="10.30" height="12.90" fill="#e4eef1" stroke="none" stroke-width="1"/>
<path d="M417.50,405.60 V392.70 H427.80 V405.60" fill="none" stroke="#7a7a7a" stroke-width="0.65"/>
<text x="422.65" y="413.10" font-size="6.3" text-anchor="middle" font-weight="normal" fill="#2a2a2a" >1</text>
<rect x="429.65" y="383.49" width="10.30" height="22.11" fill="#e4eef1" stroke="none" stroke-width="1"/>
<path d="M429.65,405.60 V383.49 H439.95 V405.60" fill="none" stroke="#7a7a7a" stroke-width="0.65"/>
<text x="434.80" y="413.10" font-size="6.3" text-anchor="middle" font-weight="normal" fill="#2a2a2a" >2</text>
<rect x="441.80" y="392.79" width="10.30" height="12.81" fill="#e4eef1" stroke="none" stroke-width="1"/>
<path d="M441.80,405.60 V392.79 H452.10 V405.60" fill="none" stroke="#7a7a7a" stroke-width="0.65"/>
<text x="446.95" y="413.10" font-size="6.3" text-anchor="middle" font-weight="normal" fill="#2a2a2a" >3</text>
<rect x="453.95" y="393.60" width="10.30" height="12.00" fill="#e4eef1" stroke="none" stroke-width="1"/>
<path d="M453.95,405.60 V393.60 H464.25 V405.60" fill="none" stroke="#7a7a7a" stroke-width="0.65"/>
<text x="459.10" y="413.10" font-size="6.3" text-anchor="middle" font-weight="normal" fill="#2a2a2a" >4</text>
<rect x="466.10" y="390.10" width="10.30" height="15.50" fill="#e4eef1" stroke="none" stroke-width="1"/>
<path d="M466.10,405.60 V390.10 H476.40 V405.60" fill="none" stroke="#7a7a7a" stroke-width="0.65"/>
<text x="471.25" y="413.10" font-size="6.3" text-anchor="middle" font-weight="normal" fill="#2a2a2a" >5</text>
<rect x="478.25" y="343.27" width="10.30" height="62.33" fill="#e4eef1" stroke="none" stroke-width="1"/>
<path d="M478.25,405.60 V343.27 H488.55 V405.60" fill="none" stroke="#7a7a7a" stroke-width="0.65"/>
<text x="483.40" y="413.10" font-size="6.3" text-anchor="middle" font-weight="normal" fill="#2a2a2a" >10</text>
<text x="440.25" y="423.00" font-size="6.6" text-anchor="middle" font-weight="normal" fill="#2a2a2a" >Interval</text>
<text x="458.20" y="343.60" font-size="8.9" text-anchor="start" font-weight="normal" fill="#111" >C1</text>
<rect x="616.2" y="330.0" width="98.09999999999991" height="78.60000000000002" fill="#fff" stroke="#9a9a9a" stroke-width="0.9"/>
<text x="615.00" y="410.90" font-size="6.3" text-anchor="end" font-weight="normal" fill="#2a2a2a" >0.000</text>
<line x1="616.20" y1="398.78" x2="617.60" y2="398.78" stroke="#777" stroke-width="0.7"/>
<line x1="616.20" y1="388.95" x2="618.20" y2="388.95" stroke="#777" stroke-width="0.7"/>
<text x="615.00" y="391.25" font-size="6.3" text-anchor="end" font-weight="normal" fill="#2a2a2a" >0.005</text>
<line x1="616.20" y1="379.12" x2="617.60" y2="379.12" stroke="#777" stroke-width="0.7"/>
<line x1="616.20" y1="369.30" x2="618.20" y2="369.30" stroke="#777" stroke-width="0.7"/>
<text x="615.00" y="371.60" font-size="6.3" text-anchor="end" font-weight="normal" fill="#2a2a2a" >0.010</text>
<line x1="616.20" y1="359.48" x2="617.60" y2="359.48" stroke="#777" stroke-width="0.7"/>
<line x1="616.20" y1="349.65" x2="618.20" y2="349.65" stroke="#777" stroke-width="0.7"/>
<text x="615.00" y="351.95" font-size="6.3" text-anchor="end" font-weight="normal" fill="#2a2a2a" >0.015</text>
<line x1="616.20" y1="339.82" x2="617.60" y2="339.82" stroke="#777" stroke-width="0.7"/>
<text x="615.00" y="332.30" font-size="6.3" text-anchor="end" font-weight="normal" fill="#2a2a2a" >0.020</text>
<rect x="619.05" y="337.31" width="9.80" height="30.30" fill="#14ad86" stroke="none" stroke-width="1"/>
<rect x="619.05" y="367.61" width="9.80" height="40.99" fill="#dfefea" stroke="none" stroke-width="1"/>
<path d="M619.05,408.60 V337.31 H628.85 V408.60" fill="none" stroke="#7a7a7a" stroke-width="0.65"/>
<line x1="619.05" y1="367.61" x2="628.85" y2="367.61" stroke="#7a7a7a" stroke-width="0.65"/>
<text x="623.95" y="416.00" font-size="6.3" text-anchor="middle" font-weight="normal" fill="#2a2a2a" >0.25</text>
<rect x="631.05" y="361.91" width="9.80" height="14.78" fill="#14ad86" stroke="none" stroke-width="1"/>
<rect x="631.05" y="376.69" width="9.80" height="31.91" fill="#dfefea" stroke="none" stroke-width="1"/>
<path d="M631.05,408.60 V361.91 H640.85 V408.60" fill="none" stroke="#7a7a7a" stroke-width="0.65"/>
<line x1="631.05" y1="376.69" x2="640.85" y2="376.69" stroke="#7a7a7a" stroke-width="0.65"/>
<text x="635.95" y="416.00" font-size="6.3" text-anchor="middle" font-weight="normal" fill="#2a2a2a" >0.5</text>
<rect x="643.05" y="374.68" width="9.80" height="7.90" fill="#14ad86" stroke="none" stroke-width="1"/>
<rect x="643.05" y="382.58" width="9.80" height="26.02" fill="#dfefea" stroke="none" stroke-width="1"/>
<path d="M643.05,408.60 V374.68 H652.85 V408.60" fill="none" stroke="#7a7a7a" stroke-width="0.65"/>
<line x1="643.05" y1="382.58" x2="652.85" y2="382.58" stroke="#7a7a7a" stroke-width="0.65"/>
<text x="647.95" y="416.00" font-size="6.3" text-anchor="middle" font-weight="normal" fill="#2a2a2a" >1</text>
<rect x="655.05" y="383.41" width="9.80" height="6.48" fill="#14ad86" stroke="none" stroke-width="1"/>
<rect x="655.05" y="389.89" width="9.80" height="18.71" fill="#dfefea" stroke="none" stroke-width="1"/>
<path d="M655.05,408.60 V383.41 H664.85 V408.60" fill="none" stroke="#7a7a7a" stroke-width="0.65"/>
<line x1="655.05" y1="389.89" x2="664.85" y2="389.89" stroke="#7a7a7a" stroke-width="0.65"/>
<text x="659.95" y="416.00" font-size="6.3" text-anchor="middle" font-weight="normal" fill="#2a2a2a" >2</text>
<rect x="667.05" y="395.79" width="9.80" height="3.30" fill="#14ad86" stroke="none" stroke-width="1"/>
<rect x="667.05" y="399.09" width="9.80" height="9.51" fill="#dfefea" stroke="none" stroke-width="1"/>
<path d="M667.05,408.60 V395.79 H676.85 V408.60" fill="none" stroke="#7a7a7a" stroke-width="0.65"/>
<line x1="667.05" y1="399.09" x2="676.85" y2="399.09" stroke="#7a7a7a" stroke-width="0.65"/>
<text x="671.95" y="416.00" font-size="6.3" text-anchor="middle" font-weight="normal" fill="#2a2a2a" >3</text>
<rect x="679.05" y="399.29" width="9.80" height="3.03" fill="#14ad86" stroke="none" stroke-width="1"/>
<rect x="679.05" y="402.31" width="9.80" height="6.29" fill="#dfefea" stroke="none" stroke-width="1"/>
<path d="M679.05,408.60 V399.29 H688.85 V408.60" fill="none" stroke="#7a7a7a" stroke-width="0.65"/>
<line x1="679.05" y1="402.31" x2="688.85" y2="402.31" stroke="#7a7a7a" stroke-width="0.65"/>
<text x="683.95" y="416.00" font-size="6.3" text-anchor="middle" font-weight="normal" fill="#2a2a2a" >4</text>
<rect x="691.05" y="402.12" width="9.80" height="1.57" fill="#14ad86" stroke="none" stroke-width="1"/>
<rect x="691.05" y="403.69" width="9.80" height="4.91" fill="#dfefea" stroke="none" stroke-width="1"/>
<path d="M691.05,408.60 V402.12 H700.85 V408.60" fill="none" stroke="#7a7a7a" stroke-width="0.65"/>
<line x1="691.05" y1="403.69" x2="700.85" y2="403.69" stroke="#7a7a7a" stroke-width="0.65"/>
<text x="695.95" y="416.00" font-size="6.3" text-anchor="middle" font-weight="normal" fill="#2a2a2a" >5</text>
<rect x="703.05" y="400.11" width="9.80" height="2.59" fill="#14ad86" stroke="none" stroke-width="1"/>
<rect x="703.05" y="402.71" width="9.80" height="5.89" fill="#dfefea" stroke="none" stroke-width="1"/>
<path d="M703.05,408.60 V400.11 H712.85 V408.60" fill="none" stroke="#7a7a7a" stroke-width="0.65"/>
<line x1="703.05" y1="402.71" x2="712.85" y2="402.71" stroke="#7a7a7a" stroke-width="0.65"/>
<text x="707.95" y="416.00" font-size="6.3" text-anchor="middle" font-weight="normal" fill="#2a2a2a" >10</text>
<text x="665.25" y="425.60" font-size="6.6" text-anchor="middle" font-weight="normal" fill="#2a2a2a" >Interval</text>
</svg>
</body></html>
